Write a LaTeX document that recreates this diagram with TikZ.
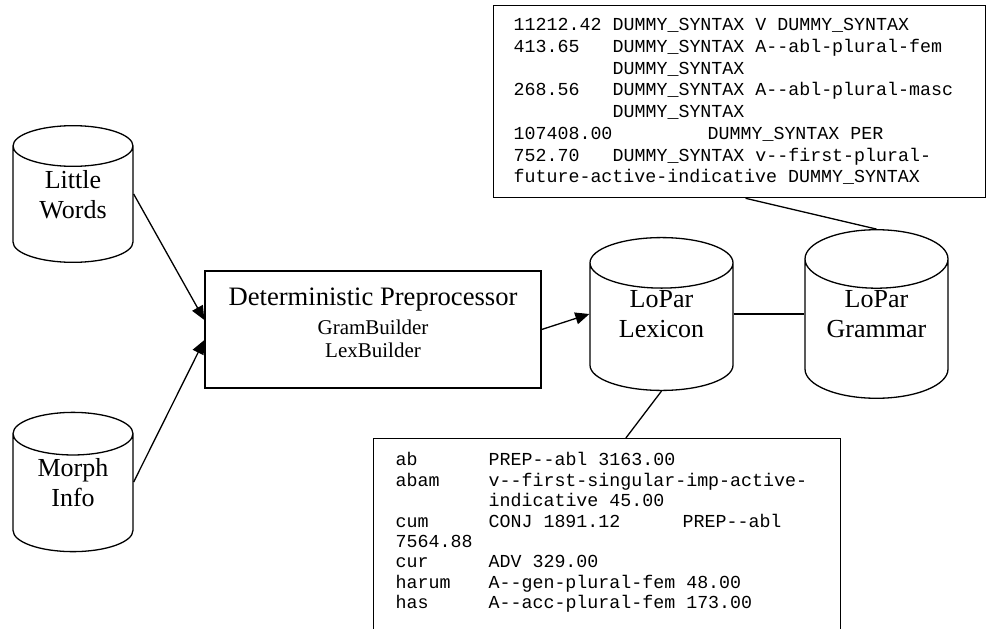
\documentclass[tikz,border=0pt]{standalone}
\usepackage{fontspec}
\setmainfont{Liberation Serif}
\setmonofont{Liberation Mono}
\usetikzlibrary{shapes.geometric, arrows.meta, positioning, calc}
\newcommand{\fixedspace}{\spaceskip=10.98pt\relax}

\begin{document}
\begin{tikzpicture}[
        x = 1pt, y = -1pt,
        line width = 1.3pt,
        store/.style = {cylinder, draw, shape border rotate=90, aspect=0.55,
                        anchor=shape center, text depth=27pt,
                        minimum width=120pt, minimum height=134pt, align=center,
                        font=\fontsize{26}{30}\selectfont},
        wide store/.style = {store, minimum width=143pt, inner ysep=2pt, text depth=33pt},
        process/.style = {rectangle, draw, minimum width=336pt, minimum height=117pt, align=center,
                          text depth=14pt, font=\fontsize{21}{23}\selectfont},
        listing/.style = {rectangle, draw, anchor=north west, align=left,
                          font=\ttfamily\fontsize{18.3}{21.7}\selectfont},
        link/.style = {-{Triangle[length=14pt, width=12pt]}}
    ]
    \useasboundingbox (0,0) rectangle (988,629);

    \node[store]   (words) at (73,194) {Little\\Words};
    \node[store]   (morph) at (73,482) {Morph\\Info};
    \node[process] (pre)   at (373,329.5)
        {{\fontsize{26.6}{30}\selectfont Deterministic Preprocessor}\\[6pt]
         GramBuilder\\
         LexBuilder};
    \node[wide store] (lex)  at (661.5,314) {LoPar\\Lexicon};
    \node[wide store, text depth=38pt] (gram) at (876.5,314) {LoPar\\Grammar};

    % grammar listing
    \node[listing, text width=452pt, inner xsep=20pt, minimum height=192pt] (tbox) at (493,5) {\fixedspace
        \makebox[99pt][l]{11212.42}DUMMY\_SYNTAX V DUMMY\_SYNTAX\\
        \makebox[99pt][l]{413.65}DUMMY\_SYNTAX A-{}-abl-plural-fem\\
        \makebox[99pt][l]{}DUMMY\_SYNTAX\\
        \makebox[99pt][l]{268.56}DUMMY\_SYNTAX A-{}-abl-plural-masc\\
        \makebox[99pt][l]{}DUMMY\_SYNTAX\\
        \makebox[194pt][l]{107408.00}DUMMY\_SYNTAX PER\\
        \makebox[99pt][l]{752.70}DUMMY\_SYNTAX v-{}-first-plural-\\
        future-active-indicative DUMMY\_SYNTAX};

    % lexicon listing
    \node[listing, text width=423pt, inner xsep=22pt, inner ysep=14pt,
          font=\ttfamily\fontsize{18.3}{20.4}\selectfont] (lbox) at (373,438) {\fixedspace
        \makebox[93pt][l]{ab}PREP-{}-abl 3163.00\\
        \makebox[93pt][l]{abam}v-{}-first-singular-imp-active-\\
        \makebox[93pt][l]{}indicative 45.00\\
        \makebox[93pt][l]{cum}\makebox[194pt][l]{CONJ 1891.12}PREP-{}-abl\\
        7564.88\\
        \makebox[93pt][l]{cur}ADV 329.00\\
        \makebox[93pt][l]{harum}A-{}-gen-plural-fem 48.00\\
        \makebox[93pt][l]{has}A-{}-acc-plural-fem 173.00\\
        \mbox{}\\
        \mbox{}};

    \draw[link] (words.shape center -| words.east) -- ([yshift=9.5pt]pre.west);
    \draw[link] (morph.shape center -| morph.east) -- ([yshift=-10.5pt]pre.west);
    \draw[link] (pre.east) -- (lex.shape center -| lex.west);
    \draw (lex.shape center -| lex.east) -- (gram.shape center -| gram.west);
    \draw (gram.north) -- ($(tbox.south west)!0.512!(tbox.south east)$);
    \draw (lex.south) -- ($(lbox.north west)!0.54!(lbox.north east)$);

\end{tikzpicture}
\end{document}
